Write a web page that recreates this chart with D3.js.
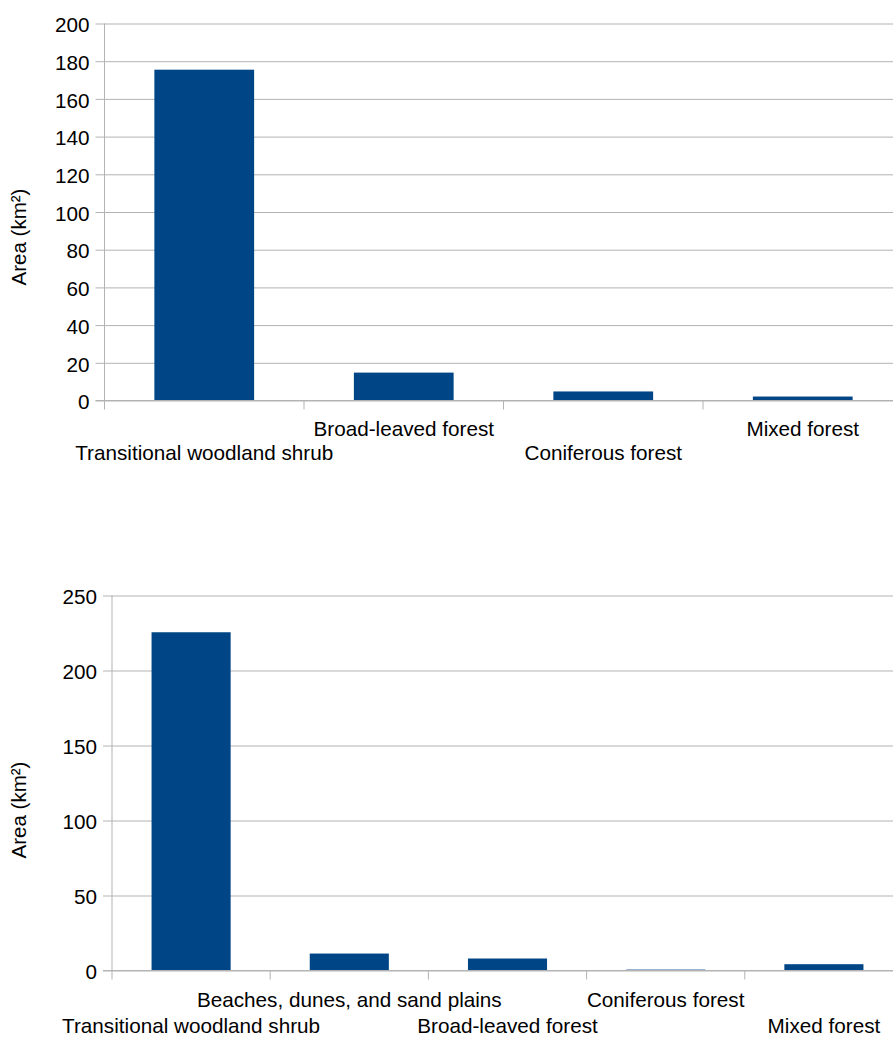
<!DOCTYPE html>
<html>
<head>
<meta charset="utf-8">
<script src="https://cdn.jsdelivr.net/npm/d3@7"></script>
<style>
  html, body { margin: 0; padding: 0; background: #fff; }
  svg { display: block; }
  text { font-family: "Liberation Sans", Arial, sans-serif; fill: #000; }
</style>
</head>
<body>
<svg id="chart" width="893" height="1037"></svg>
<script>
// ---- Data ----
const categories1 = ["Transitional woodland shrub", "Broad-leaved forest", "Coniferous forest", "Mixed forest"];
const values1 = [175.5, 14.8, 4.8, 2.1];
const yTicks1 = [0, 20, 40, 60, 80, 100, 120, 140, 160, 180, 200];

const categories2 = ["Transitional woodland shrub", "Beaches, dunes, and sand plains", "Broad-leaved forest", "Coniferous forest", "Mixed forest"];
const values2 = [225.5, 11.3, 8.0, 0.6, 4.2];
const yTicks2 = [0, 50, 100, 150, 200, 250];

const yTitle = "Area (km²)";

// ---- Style ----
const BAR = "#004586";
const GRID = "#b3b3b3";
const FONT = 20.7;

const svg = d3.select("#chart");

function drawChart(cfg) {
  const { cats, vals, ticks, left, right, top, bottom, titleX, titleY, row1, row2 } = cfg;
  const g = svg.append("g");
  const x = d3.scaleBand().domain(cats).range([left, right]).paddingInner(0.5).paddingOuter(0.25);
  const y = d3.scaleLinear().domain([ticks[0], ticks[ticks.length - 1]]).range([bottom, top]);
  const step = (right - left) / cats.length;

  // gridlines + tick labels via axisLeft
  const ax = g.append("g").attr("transform", `translate(${left},0)`)
    .call(d3.axisLeft(y).tickValues(ticks).tickSize(-(right - left)).tickPadding(15).tickFormat(d3.format("d")));
  ax.select(".domain").remove();
  ax.selectAll(".tick line").attr("x1", -9).attr("stroke", GRID).attr("stroke-width", 1);
  ax.selectAll(".tick text").attr("font-size", FONT).attr("font-family", '"Liberation Sans", Arial, sans-serif')
    .attr("fill", "#000").attr("dy", "0.4em");

  // category tick marks (band boundaries) incl. y axis line
  const bounds = d3.range(cats.length).map(i => left + i * step);
  g.selectAll("line.cat").data(bounds).enter().append("line")
    .attr("x1", d => d).attr("x2", d => d)
    .attr("y1", (d, i) => i === 0 ? top : bottom).attr("y2", bottom + 9)
    .attr("stroke", GRID).attr("stroke-width", 1);

  // bars
  g.selectAll("rect.bar").data(vals).enter().append("rect")
    .attr("x", (d, i) => x(cats[i]))
    .attr("width", x.bandwidth())
    .attr("y", d => y(d))
    .attr("height", d => y(0) - y(d))
    .attr("fill", BAR);

  // baseline on top (gray)
  g.append("line").attr("x1", left - 9).attr("x2", right).attr("y1", y(0)).attr("y2", y(0))
    .attr("stroke", GRID).attr("stroke-width", 1);

  // category labels, staggered
  g.selectAll("text.cat").data(cats).enter().append("text")
    .attr("x", d => x(d) + x.bandwidth() / 2)
    .attr("y", (d, i) => i % 2 === 1 ? row1 : row2)
    .attr("text-anchor", "middle")
    .attr("font-size", FONT)
    .text(d => d);

  // y title
  g.append("text")
    .attr("transform", `translate(${titleX},${titleY}) rotate(-90)`)
    .attr("text-anchor", "middle")
    .attr("font-size", 20.5)
    .text(yTitle);
}

drawChart({ cats: categories1, vals: values1, ticks: yTicks1,
  left: 104.5, right: 902.5, top: 23.5, bottom: 400.5,
  titleX: 26, titleY: 237, row1: 435.5, row2: 460 });

drawChart({ cats: categories2, vals: values2, ticks: yTicks2,
  left: 112, right: 903, top: 595.5, bottom: 970.5,
  titleX: 26, titleY: 810, row1: 1007, row2: 1033 });
</script>
</body>
</html>
